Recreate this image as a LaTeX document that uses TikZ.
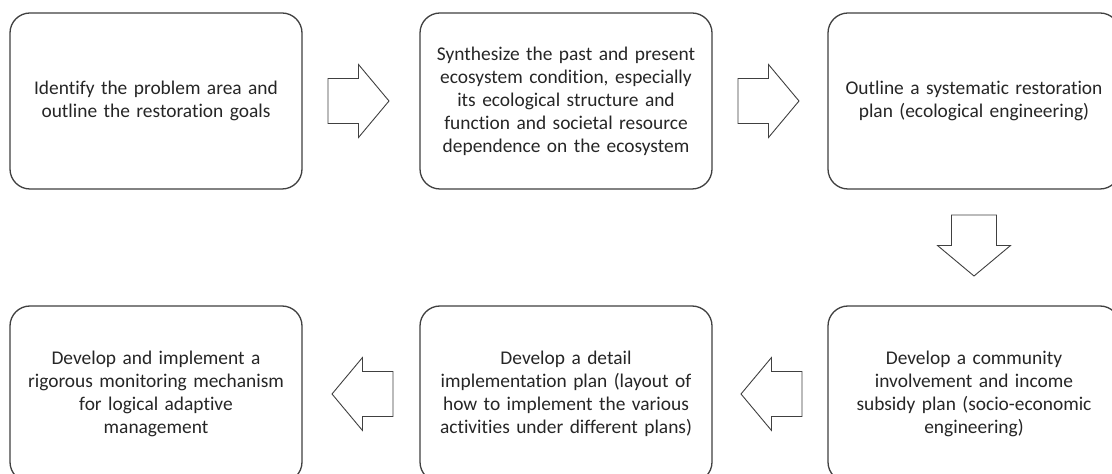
\documentclass[tikz,border=0pt]{standalone}
\usepackage{fontspec}
\setmainfont[Ligatures={NoCommon}]{Carlito}
\usetikzlibrary{calc}
\definecolor{lineg}{HTML}{404040}
\definecolor{txt}{HTML}{262626}
\tikzset{
  stepbox/.style={draw=lineg, line width=1.3pt, rounded corners=20pt,
    minimum width=292pt, minimum height=176pt, text width=280pt,
    align=center, inner sep=0pt, text=txt,
    font=\fontsize{19.4}{23}\selectfont},
  barrow/.style={draw=lineg, line width=0.9pt, fill=white, line join=miter},
  blockarr/.pic={\draw[barrow] (-30.5,-22.5) -- (0,-22.5) -- (0,-36.5) -- (30.5,0)
     -- (0,36.5) -- (0,22.5) -- (-30.5,22.5) -- cycle;}
}
\begin{document}
\begin{tikzpicture}[x=1pt,y=1pt]
\clip (0,0) rectangle (1112,474);
\fill[white] (0,0) rectangle (1112,474);
\node[stepbox] (b1) at (156,373) {Identify the problem area and\\outline the restoration goals};
\node[stepbox] (b2) at (566,373) {Synthesize the past and present\\ecosystem condition, especially\\its ecological structure and\\function and societal resource\\dependence on the ecosystem};
\node[stepbox] (b3) at (974,373) {Outline a systematic restoration\\plan (ecological engineering)};
\node[stepbox] (b6) at (974,80) {Develop a community\\involvement and income\\subsidy plan (socio-economic\\engineering)};
\node[stepbox] (b5) at (566,80) {Develop a detail\\implementation plan (layout of\\how to implement the various\\activities under different plans)};
\node[stepbox] (b4) at (156,80) {Develop and implement a\\rigorous monitoring mechanism\\for logical adaptive\\management};
\coordinate (m12) at ($(b1.east)!0.5!(b2.west)+(-2.5,0)$);
\coordinate (m23) at ($(b2.east)!0.5!(b3.west)+(-1.5,0)$);
\coordinate (m36) at ($(b3.south)!0.5!(b6.north)+(0,2)$);
\coordinate (m65) at ($(b6.west)!0.5!(b5.east)+(1.5,0)$);
\coordinate (m54) at ($(b5.west)!0.5!(b4.east)+(1.5,0)$);
\pic at (m12) {blockarr};
\pic at (m23) {blockarr};
\pic[rotate=-90] at (m36) {blockarr};
\pic[rotate=180] at (m65) {blockarr};
\pic[rotate=180] at (m54) {blockarr};
\end{tikzpicture}
\end{document}
